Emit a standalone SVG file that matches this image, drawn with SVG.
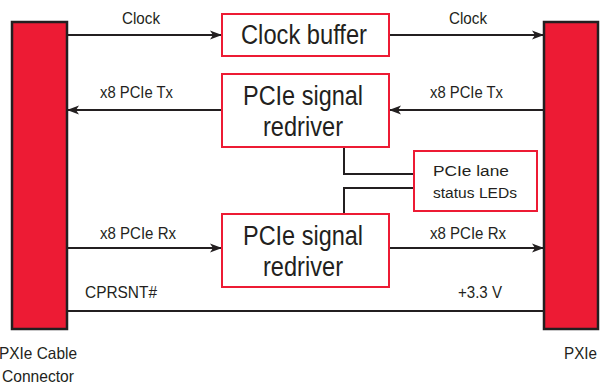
<svg xmlns="http://www.w3.org/2000/svg" width="600" height="386" viewBox="0 0 600 386">
<defs>
<style>
.bar{fill:#ED1B34;stroke:#231F20;stroke-width:2.5}
.box{fill:#fff;stroke:#ED1B34;stroke-width:2}
.ln{stroke:#231F20;stroke-width:2;fill:none}
.arr{marker-end:url(#ah)}
text{font-family:"Liberation Sans",Arial,sans-serif;fill:#231F20;text-anchor:middle}
.s{font-size:16.5px}
.b{font-size:27px}
.m{font-size:15.5px}
</style>
<marker id="ah" markerWidth="12" markerHeight="10" refX="11" refY="5" orient="auto" markerUnits="userSpaceOnUse">
<path d="M0,0.5 L12,5 L0,9.5 L3,5 Z" fill="#231F20"/>
</marker>
</defs>
<g id="connectors">
<line class="ln arr" x1="67" y1="35" x2="221" y2="35"/>
<line class="ln arr" x1="389" y1="35" x2="543" y2="35"/>
<line class="ln arr" x1="544" y1="110" x2="390" y2="110"/>
<line class="ln arr" x1="222" y1="110" x2="68" y2="110"/>
<line class="ln arr" x1="67" y1="248" x2="221" y2="248"/>
<line class="ln arr" x1="389" y1="248" x2="543" y2="248"/>
<line class="ln" x1="67" y1="311" x2="544" y2="311"/>
<polyline class="ln" points="344,147 344,174 414,174"/>
<polyline class="ln" points="344,214 344,188 414,188"/>
<text class="s" x="141" y="24" textLength="38" lengthAdjust="spacingAndGlyphs">Clock</text>
<text class="s" x="468" y="24" textLength="38" lengthAdjust="spacingAndGlyphs">Clock</text>
<text class="s" x="136.5" y="98" textLength="73" lengthAdjust="spacingAndGlyphs">x8 PCIe Tx</text>
<text class="s" x="466.5" y="98" textLength="73" lengthAdjust="spacingAndGlyphs">x8 PCIe Tx</text>
<text class="s" x="138" y="239" textLength="76" lengthAdjust="spacingAndGlyphs">x8 PCIe Rx</text>
<text class="s" x="468" y="239" textLength="76" lengthAdjust="spacingAndGlyphs">x8 PCIe Rx</text>
<text class="s" x="121" y="298" textLength="72" lengthAdjust="spacingAndGlyphs">CPRSNT#</text>
<text class="s" x="480" y="298" textLength="44" lengthAdjust="spacingAndGlyphs">+3.3 V</text>
</g>
<g id="pxie-cable-connector">
<rect class="bar" x="12" y="22" width="55" height="307"/>
<text class="s" x="38" y="359" textLength="78" lengthAdjust="spacingAndGlyphs">PXIe Cable</text>
<text class="s" x="38" y="382" textLength="72" lengthAdjust="spacingAndGlyphs">Connector</text>
</g>
<g id="pxie">
<rect class="bar" x="544" y="22" width="54" height="307"/>
<text class="s" x="580.5" y="359" textLength="33" lengthAdjust="spacingAndGlyphs">PXIe</text>
</g>
<g id="clock-buffer">
<rect class="box" x="222" y="14" width="167" height="42"/>
<text class="b" x="304" y="44" textLength="126" lengthAdjust="spacingAndGlyphs">Clock buffer</text>
</g>
<g id="redriver-tx">
<rect class="box" x="222" y="74" width="167" height="73"/>
<text class="b" x="303" y="105" textLength="120" lengthAdjust="spacingAndGlyphs">PCIe signal</text>
<text class="b" x="303" y="136" textLength="80" lengthAdjust="spacingAndGlyphs">redriver</text>
</g>
<g id="redriver-rx">
<rect class="box" x="222" y="214" width="167" height="73"/>
<text class="b" x="303" y="245" textLength="120" lengthAdjust="spacingAndGlyphs">PCIe signal</text>
<text class="b" x="303" y="276" textLength="80" lengthAdjust="spacingAndGlyphs">redriver</text>
</g>
<g id="led-status">
<rect class="box" x="414" y="151" width="123" height="60"/>
<text class="m" x="471" y="176" textLength="76" lengthAdjust="spacingAndGlyphs">PCIe lane</text>
<text class="m" x="475" y="198" textLength="84" lengthAdjust="spacingAndGlyphs">status LEDs</text>
</g>
</svg>
